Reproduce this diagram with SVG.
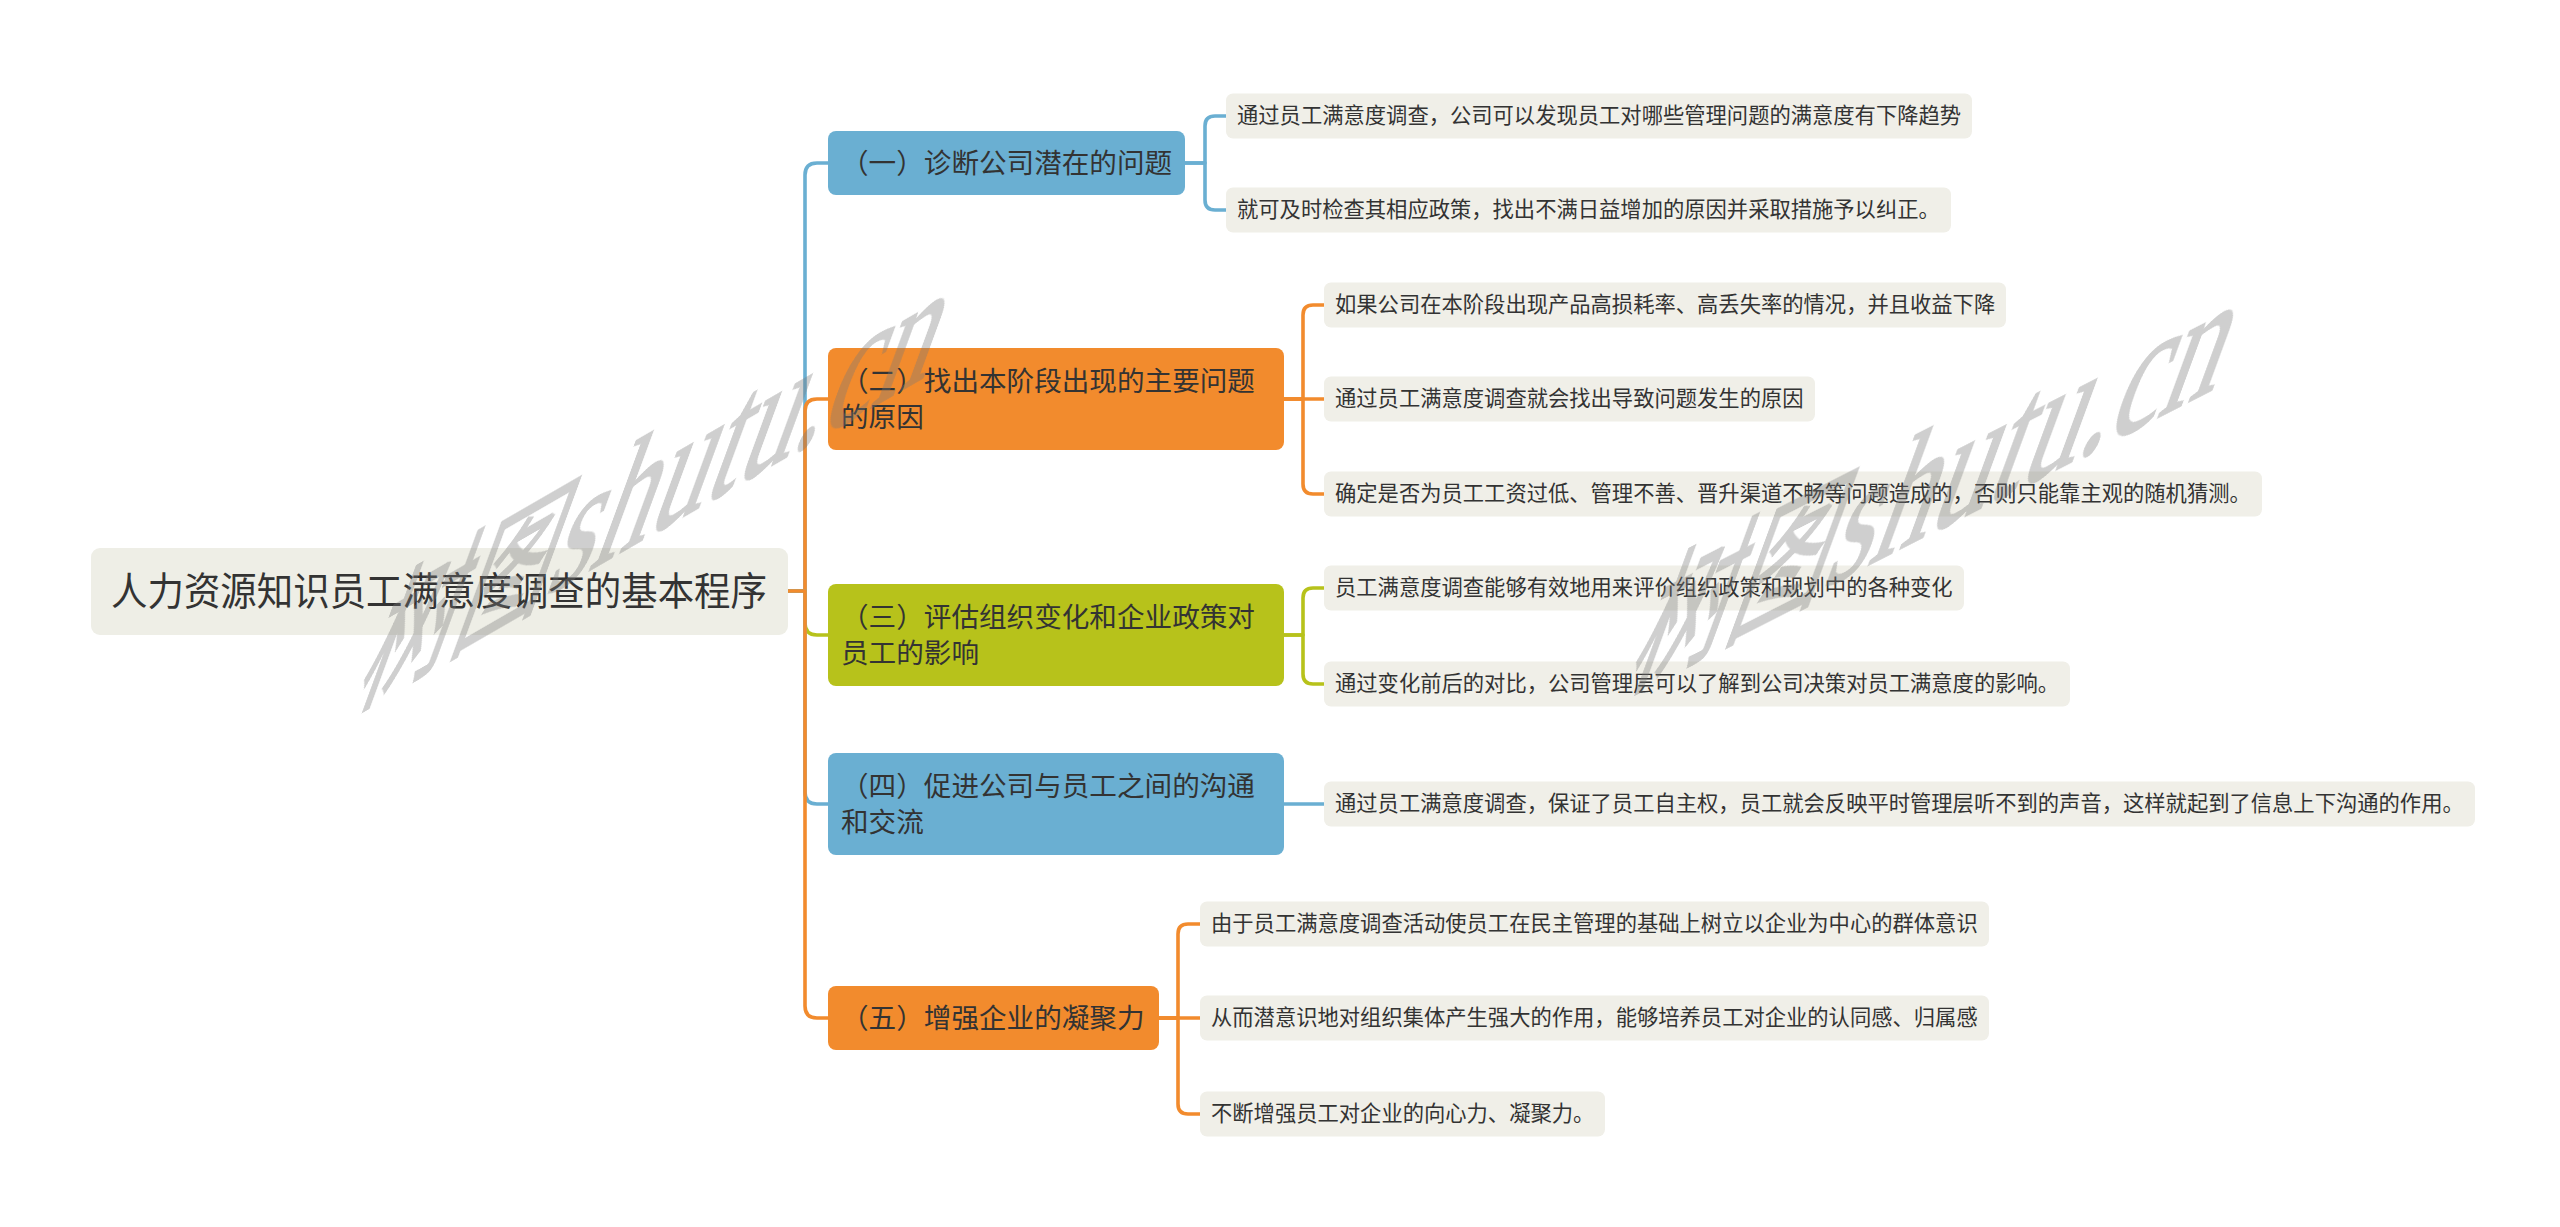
<svg xmlns="http://www.w3.org/2000/svg" width="2560" height="1227" viewBox="0 0 2560 1227">
<style>
text{font-family:'Liberation Sans','Noto Sans CJK SC',sans-serif;fill:#333333;dominant-baseline:central}
.root{font-size:38.6px}
.br{font-size:27.6px}
.lf{font-size:21.3px}
.leafbox{fill:#f0efe8}
.blue{fill:#6aafd2}
.orange{fill:#f28b2d}
.green{fill:#b7c21b}
.c{fill:none;stroke-width:3.6;stroke-linecap:round;stroke-linejoin:round}
.cb{stroke:#6aafd2}
.co{stroke:#f28b2d}
.cg{stroke:#b7c21b}
.wm{font-family:'Liberation Serif','Noto Sans CJK SC',serif;font-size:125px;fill:#7a7a7a;stroke:#7a7a7a;stroke-width:1.5;dominant-baseline:auto}
.wmc{font-size:105px}
</style>
<rect width="2560" height="1227" fill="#ffffff"/>
<g id="connectors">
<path class="c cb" d="M788,591 H805 V175 Q805,163 817,163 H828"/>
<path class="c co" d="M788,591 H805 V411 Q805,399 817,399 H828"/>
<path class="c cg" d="M788,591 H805 V623 Q805,635 817,635 H828"/>
<path class="c cb" d="M788,591 H805 V792 Q805,804 817,804 H828"/>
<path class="c co" d="M788,591 H805 V1006 Q805,1018 817,1018 H828"/>
<path class="c cb" d="M1185,163 H1205 V126 Q1205,116 1215,116 H1226"/>
<path class="c cb" d="M1185,163 H1205 V200 Q1205,210 1215,210 H1226"/>
<path class="c co" d="M1284,399 H1303 V315 Q1303,305 1313,305 H1324"/>
<path class="c co" d="M1284,399 H1324"/>
<path class="c co" d="M1284,399 H1303 V484 Q1303,494 1313,494 H1324"/>
<path class="c cg" d="M1284,635 H1303 V598 Q1303,588 1313,588 H1324"/>
<path class="c cg" d="M1284,635 H1303 V674 Q1303,684 1313,684 H1324"/>
<path class="c cb" d="M1284,804 H1324"/>
<path class="c co" d="M1159,1018 H1178 V934 Q1178,924 1188,924 H1200"/>
<path class="c co" d="M1159,1018 H1200"/>
<path class="c co" d="M1159,1018 H1178 V1104 Q1178,1114 1188,1114 H1200"/>
</g>
<g id="root">
<rect x="91" y="548" width="697" height="87" rx="9" fill="#eeeee6"/>
<text class="root" x="111" y="591" textLength="656" lengthAdjust="spacingAndGlyphs">人力资源知识员工满意度调查的基本程序</text>
</g>
<g id="b1">
<rect class="blue" x="828" y="131" width="357" height="64" rx="8"/>
<text class="br" x="841" y="163">（一）诊断公司潜在的问题</text>
</g>
<g id="b2">
<rect class="orange" x="828" y="348" width="456" height="102" rx="8"/>
<text class="br" x="841" y="381">（二）找出本阶段出现的主要问题</text>
<text class="br" x="841" y="417">的原因</text>
</g>
<g id="b3">
<rect class="green" x="828" y="584" width="456" height="102" rx="8"/>
<text class="br" x="841" y="617">（三）评估组织变化和企业政策对</text>
<text class="br" x="841" y="653">员工的影响</text>
</g>
<g id="b4">
<rect class="blue" x="828" y="753" width="456" height="102" rx="8"/>
<text class="br" x="841" y="786">（四）促进公司与员工之间的沟通</text>
<text class="br" x="841" y="822">和交流</text>
</g>
<g id="b5">
<rect class="orange" x="828" y="986" width="331" height="64" rx="8"/>
<text class="br" x="841" y="1018">（五）增强企业的凝聚力</text>
</g>
<g id="l1a">
<rect class="leafbox" x="1226" y="93.5" width="746" height="45" rx="7"/>
<text class="lf" x="1237" y="116">通过员工满意度调查，公司可以发现员工对哪些管理问题的满意度有下降趋势</text>
</g>
<g id="l1b">
<rect class="leafbox" x="1226" y="187.5" width="725" height="45" rx="7"/>
<text class="lf" x="1237" y="210">就可及时检查其相应政策，找出不满日益增加的原因并采取措施予以纠正。</text>
</g>
<g id="l2a">
<rect class="leafbox" x="1324" y="282.5" width="682" height="45" rx="7"/>
<text class="lf" x="1335" y="305">如果公司在本阶段出现产品高损耗率、高丢失率的情况，并且收益下降</text>
</g>
<g id="l2b">
<rect class="leafbox" x="1324" y="376.5" width="491" height="45" rx="7"/>
<text class="lf" x="1335" y="399">通过员工满意度调查就会找出导致问题发生的原因</text>
</g>
<g id="l2c">
<rect class="leafbox" x="1324" y="471.5" width="938" height="45" rx="7"/>
<text class="lf" x="1335" y="494">确定是否为员工工资过低、管理不善、晋升渠道不畅等问题造成的，否则只能靠主观的随机猜测。</text>
</g>
<g id="l3a">
<rect class="leafbox" x="1324" y="565.5" width="640" height="45" rx="7"/>
<text class="lf" x="1335" y="588">员工满意度调查能够有效地用来评价组织政策和规划中的各种变化</text>
</g>
<g id="l3b">
<rect class="leafbox" x="1324" y="661.5" width="746" height="45" rx="7"/>
<text class="lf" x="1335" y="684">通过变化前后的对比，公司管理层可以了解到公司决策对员工满意度的影响。</text>
</g>
<g id="l4a">
<rect class="leafbox" x="1324" y="781.5" width="1151" height="45" rx="7"/>
<text class="lf" x="1335" y="804">通过员工满意度调查，保证了员工自主权，员工就会反映平时管理层听不到的声音，这样就起到了信息上下沟通的作用。</text>
</g>
<g id="l5a">
<rect class="leafbox" x="1200" y="901.5" width="789" height="45" rx="7"/>
<text class="lf" x="1211" y="924">由于员工满意度调查活动使员工在民主管理的基础上树立以企业为中心的群体意识</text>
</g>
<g id="l5b">
<rect class="leafbox" x="1200" y="995.5" width="789" height="45" rx="7"/>
<text class="lf" x="1211" y="1018">从而潜意识地对组织集体产生强大的作用，能够培养员工对企业的认同感、归属感</text>
</g>
<g id="l5c">
<rect class="leafbox" x="1200" y="1091.5" width="405" height="45" rx="7"/>
<text class="lf" x="1211" y="1114">不断增强员工对企业的向心力、凝聚力。</text>
</g>
<g id="watermarks" opacity="0.36">
<text class="wm" transform="matrix(0.909,-0.525,-0.55,1.5,352,708)"><tspan class="wmc">树图</tspan>shutu.cn</text>
<text class="wm" transform="matrix(0.936,-0.477,-0.55,1.5,1624,690)"><tspan class="wmc">树图</tspan>shutu.cn</text>
</g>
</svg>
